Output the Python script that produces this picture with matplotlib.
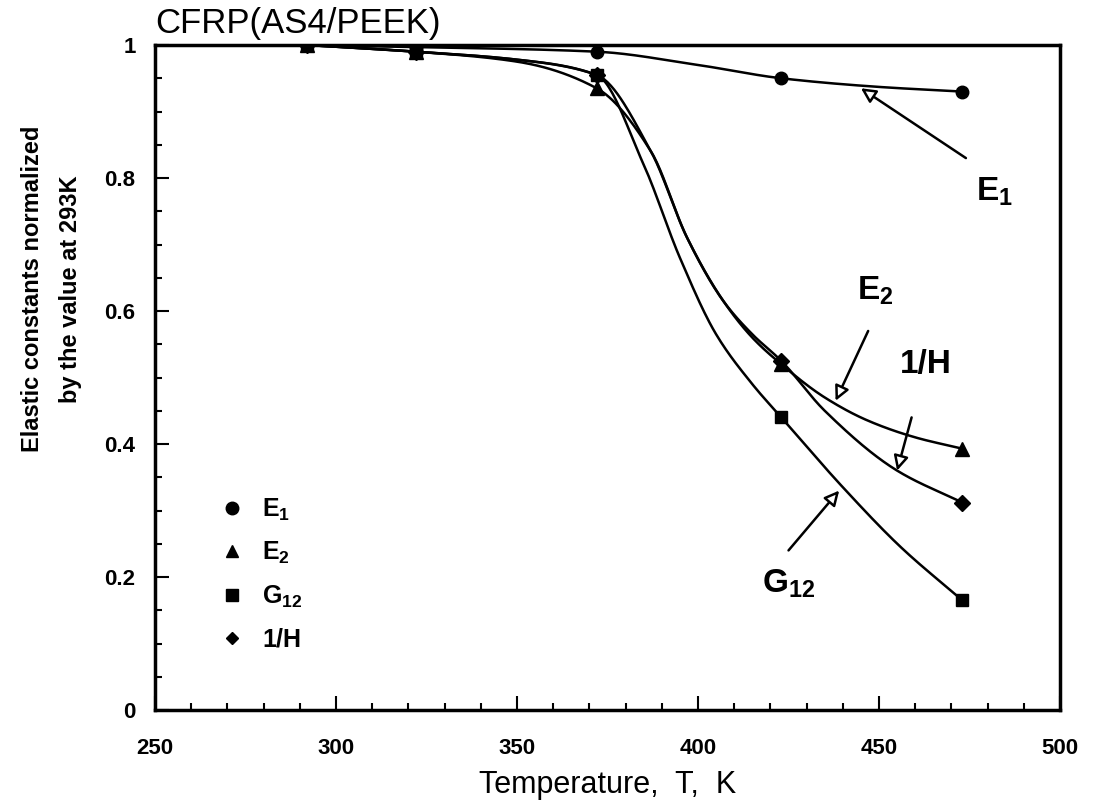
import numpy as np
import matplotlib
matplotlib.use("Agg")
import matplotlib.pyplot as plt
from matplotlib.ticker import MultipleLocator, FuncFormatter
from matplotlib.lines import Line2D

# measured points, normalized by the value at 293 K
temps = [292, 322, 372, 423, 473]
e1 = [1.0, 0.995, 0.99, 0.95, 0.93]
e2 = [1.0, 0.99, 0.935, 0.52, 0.393]
g12 = [1.0, 0.99, 0.955, 0.44, 0.165]
inv_h = [1.0, 0.99, 0.955, 0.525, 0.312]

# hand-drawn fit curves
e1_curve_t = [292, 322, 372, 400, 423, 450, 473]
e1_curve = [1.0, 0.997, 0.99, 0.97, 0.95, 0.937, 0.93]
e2_curve_t = [292, 322, 350, 372, 387, 397, 407, 415, 423, 435, 447, 460, 473]
e2_curve = [1.0, 0.99, 0.975, 0.935, 0.84, 0.71, 0.615, 0.56, 0.52, 0.47, 0.435, 0.41, 0.393]
g12_curve_t = [292, 322, 350, 372, 385, 395, 405, 415, 423, 440, 456, 473]
g12_curve = [1.0, 0.99, 0.978, 0.955, 0.82, 0.68, 0.565, 0.49, 0.44, 0.335, 0.245, 0.165]
inv_h_curve_t = [292, 322, 350, 372, 387, 397, 407, 415, 423, 435, 455, 473]
inv_h_curve = [1.0, 0.99, 0.978, 0.955, 0.84, 0.71, 0.615, 0.565, 0.525, 0.45, 0.36, 0.312]


def pchip(x, y, xs):
    """monotone cubic hermite, only used to draw a smooth line"""
    x = np.asarray(x, float)
    y = np.asarray(y, float)
    h = np.diff(x)
    d = np.diff(y) / h
    m = np.zeros_like(y)
    for k in range(1, len(x) - 1):
        if d[k - 1] * d[k] > 0:
            w1 = 2 * h[k] + h[k - 1]
            w2 = h[k] + 2 * h[k - 1]
            m[k] = (w1 + w2) / (w1 / d[k - 1] + w2 / d[k])
    m[0] = d[0]
    m[-1] = d[-1]
    idx = np.clip(np.searchsorted(x, xs) - 1, 0, len(x) - 2)
    t = (xs - x[idx]) / h[idx]
    h00 = 2 * t**3 - 3 * t**2 + 1
    h10 = t**3 - 2 * t**2 + t
    h01 = -2 * t**3 + 3 * t**2
    h11 = t**3 - t**2
    return h00 * y[idx] + h10 * h[idx] * m[idx] + h01 * y[idx + 1] + h11 * h[idx] * m[idx + 1]


plt.rcParams["font.family"] = ["Liberation Sans", "DejaVu Sans"]
plt.rcParams["mathtext.fontset"] = "custom"
plt.rcParams["mathtext.rm"] = "Liberation Sans:bold"
plt.rcParams["mathtext.it"] = "Liberation Sans:bold"
plt.rcParams["mathtext.bf"] = "Liberation Sans:bold"
plt.rcParams["mathtext.default"] = "regular"

fig = plt.figure(figsize=(10.97, 8.07), dpi=100)
ax = fig.add_axes([0.1413, 0.1202, 0.825, 0.824])

for ct, cv in [(e1_curve_t, e1_curve), (e2_curve_t, e2_curve),
               (g12_curve_t, g12_curve), (inv_h_curve_t, inv_h_curve)]:
    xs = np.linspace(ct[0], ct[-1], 400)
    ax.plot(xs, pchip(ct, cv, xs), color="black", lw=1.8, zorder=2)

ax.plot(temps, e1, "o", color="black", ms=9, zorder=3)
ax.plot(temps, e2, "^", color="black", ms=10, zorder=3)
ax.plot(temps, inv_h, "D", color="black", ms=8, zorder=3)
ax.plot(temps, g12, "s", color="black", ms=9, zorder=4)

ax.set_xlim(250, 500)
ax.set_ylim(0, 1)
ax.xaxis.set_major_locator(MultipleLocator(50))
ax.xaxis.set_minor_locator(MultipleLocator(10))
ax.yaxis.set_major_locator(MultipleLocator(0.2))
ax.yaxis.set_minor_locator(MultipleLocator(0.05))
ax.yaxis.set_major_formatter(FuncFormatter(lambda v, p: "%g" % round(v, 2)))
ax.tick_params(which="both", direction="in", width=1.5, top=False, right=False,
               labelsize=16)
ax.tick_params(axis="x", pad=20)
ax.tick_params(axis="y", pad=14)
ax.tick_params(which="major", length=10)
ax.tick_params(which="minor", length=5)
for lab in ax.get_xticklabels() + ax.get_yticklabels():
    lab.set_fontweight("bold")
for sp in ax.spines.values():
    sp.set_linewidth(2.5)

ax.set_xlabel("Temperature,  T,  K", fontsize=22, labelpad=8)
fig.text(0.030, 0.642, "Elastic constants normalized", rotation=90, fontsize=17,
         fontweight="bold", ha="center", va="center")
fig.text(0.064, 0.642, "by the value at 293K", rotation=90, fontsize=17,
         fontweight="bold", ha="center", va="center")
ax.text(0.0, 1.008, "CFRP(AS4/PEEK)", transform=ax.transAxes, fontsize=25,
        ha="left", va="bottom")

handles = [
    Line2D([], [], ls="none", marker="o", color="black", ms=9),
    Line2D([], [], ls="none", marker="^", color="black", ms=9),
    Line2D([], [], ls="none", marker="s", color="black", ms=8),
    Line2D([], [], ls="none", marker="D", color="black", ms=6),
]
ax.legend(handles, ["E$_1$", "E$_2$", "G$_{12}$", "1/H"], loc="upper left",
          bbox_to_anchor=(0.058, 0.34), frameon=False,
          handlelength=1.0, handletextpad=0.7, labelspacing=0.7, borderpad=0,
          prop={"weight": "bold", "size": 18})

arrow = dict(arrowstyle="-|>", fc="white", ec="black", lw=1.8, mutation_scale=22,
             shrinkA=0, shrinkB=0)
ax.annotate("", xy=(445, 0.935), xytext=(474, 0.83), arrowprops=arrow)
ax.text(482, 0.78, "E$_1$", fontsize=24, fontweight="bold", ha="center", va="center")
ax.annotate("", xy=(438, 0.465), xytext=(447, 0.57), arrowprops=arrow)
ax.text(449, 0.63, "E$_2$", fontsize=24, fontweight="bold", ha="center", va="center")
ax.annotate("", xy=(455, 0.36), xytext=(459, 0.44), arrowprops=arrow)
ax.text(463, 0.52, "1/H", fontsize=24, fontweight="bold", ha="center", va="center")
ax.annotate("", xy=(439, 0.33), xytext=(425, 0.24), arrowprops=arrow)
ax.text(425, 0.19, "G$_{12}$", fontsize=24, fontweight="bold", ha="center", va="center")

fig.savefig("out.png", dpi=100)
